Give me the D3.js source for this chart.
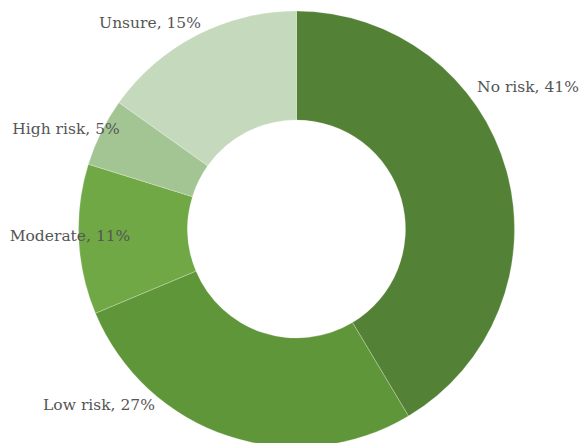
<!DOCTYPE html>
<html>
<head>
<meta charset="utf-8">
<script src="https://cdn.jsdelivr.net/npm/d3@7"></script>
<style>
  html, body { margin: 0; padding: 0; background: #fff; }
  svg { display: block; }
</style>
</head>
<body>
<svg id="chart" width="581" height="443"></svg>
<script>
// Risk perception survey – share of respondents per answer
const categories = ["No risk", "Low risk", "Moderate", "High risk", "Unsure"];
const shares = [41, 27, 11, 5, 15];
const colors = ["#538135", "#5f963a", "#70a845", "#a3c593", "#c5d9bc"];

// Label placement (centre x, baseline y) for each slice label
const labelPos = [[528, 92], [99, 410], [70, 241], [66, 134], [150, 28]];

const width = 581, height = 443;
const cx = 296.5, cy = 229;
const outerR = 218, innerR = 109;

const svg = d3.select("#chart");
const g = svg.append("g").attr("transform", `translate(${cx},${cy})`);

const data = categories.map((c, i) => ({ name: c, value: shares[i], color: colors[i] }));

const pie = d3.pie().value(d => d.value).sort(null);
const arc = d3.arc().innerRadius(innerR).outerRadius(outerR);

g.selectAll("path.slice")
  .data(pie(data))
  .join("path")
  .attr("class", "slice")
  .attr("d", arc)
  .attr("fill", d => d.data.color)
  .attr("stroke", "rgba(255,255,255,0.35)")
  .attr("stroke-width", 0.7);

svg.selectAll("text.label")
  .data(data)
  .join("text")
  .attr("class", "label")
  .attr("x", (d, i) => labelPos[i][0])
  .attr("y", (d, i) => labelPos[i][1])
  .attr("text-anchor", "middle")
  .attr("font-family", "'DejaVu Serif', Georgia, serif")
  .attr("font-size", 15.5)
  .attr("fill", "#555555")
  .text(d => `${d.name}, ${d.value}%`);
</script>
</body>
</html>
